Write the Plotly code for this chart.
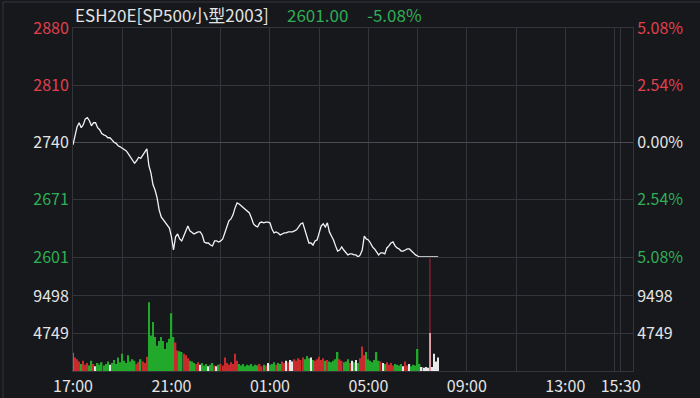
import plotly.graph_objects as go

# ---------------- data ----------------
symbol = "ESH20E[SP500小型2003]"
prev_close = 2740.25
step_min = 5  # minutes between samples, starting 17:00

price = [
    2737.5, 2749.5, 2759.5, 2764.25, 2758.25, 2761.75, 2769.0, 2770.5, 2766.75, 2760.5,
    2764.25, 2764.25, 2758.25, 2755.75, 2751.0, 2749.5, 2748.5, 2746.0, 2746.0, 2743.5,
    2740.5, 2739.25, 2736.25, 2735.0, 2733.25, 2732.5, 2730.0, 2726.5, 2722.75, 2718.0,
    2715.0, 2718.0, 2722.25, 2721.0, 2724.75, 2729.5, 2732.5, 2712.0, 2703.25, 2688.75,
    2682.5, 2673.0, 2658.25, 2649.75, 2646.0, 2643.5, 2640.0, 2636.25, 2625.5, 2609.5,
    2625.5, 2629.0, 2623.0, 2620.5, 2626.5, 2634.0, 2638.75, 2632.75, 2630.25, 2629.0,
    2630.25, 2631.5, 2631.5, 2627.75, 2619.25, 2618.0, 2618.0, 2615.5, 2614.5, 2620.5,
    2620.5, 2619.25, 2620.5, 2623.0, 2630.25, 2638.75, 2645.0, 2647.25, 2652.25, 2660.75,
    2666.75, 2665.5, 2663.25, 2660.75, 2658.25, 2655.75, 2654.5, 2648.5, 2641.25, 2638.75,
    2637.5, 2642.5, 2643.5, 2642.5, 2643.5, 2643.5, 2642.5, 2635.0, 2630.25, 2631.5,
    2630.25, 2627.75, 2629.0, 2630.25, 2630.25, 2631.5, 2631.5, 2631.5, 2632.75, 2634.0,
    2637.5, 2641.25, 2642.5, 2635.0, 2625.5, 2618.0, 2618.0, 2615.5, 2620.5, 2621.75,
    2630.25, 2638.75, 2641.25, 2637.5, 2642.5, 2631.5, 2626.5, 2621.75, 2614.5, 2608.25,
    2609.5, 2613.25, 2609.5, 2606.0, 2603.5, 2604.75, 2604.75, 2603.5, 2603.5, 2601.0,
    2603.5, 2609.5, 2626.5, 2623.0, 2621.75, 2618.0, 2613.25, 2610.75, 2607.0, 2603.5,
    2606.0, 2606.0, 2604.75, 2612.0, 2614.5, 2618.0, 2619.25, 2614.5, 2612.0, 2610.75,
    2608.25, 2608.25, 2609.5, 2610.75, 2610.75, 2608.25, 2606.0, 2603.5, 2602.25, 2601.0,
    2601.0, 2601.0, 2601.0, 2601.0, 2601.0, 2601.0, 2601.0, 2601.0, 2601.0,
]

volume = [
    2300, 1700, 1500, 1200, 900, 1300, 800, 1000, 700, 1300,
    900, 600, 1000, 800, 1100, 700, 900, 1200, 800, 1000,
    1400, 900, 1700, 1100, 2200, 1300, 1000, 2000, 1200, 1500,
    1300, 900, 1100, 1500, 1200, 1000, 1800, 8700, 4500, 6200,
    4300, 3200, 3800, 4300, 3800, 2800, 3600, 4100, 7300, 4300,
    3600, 2600, 2500, 2400, 2200, 2000, 1600, 1300, 1200, 1000,
    900, 1100, 800, 1000, 700, 900, 600, 800, 1000, 700,
    600, 800, 900, 700, 1700, 1000, 800, 1100, 900, 2200,
    1300, 900, 700, 900, 600, 800, 700, 900, 600, 800,
    700, 900, 600, 800, 700, 1000, 800, 900, 1100, 800,
    1000, 900, 1200, 1000, 1300, 1100, 1400, 1200, 1500, 1300,
    1600, 1400, 1700, 1500, 1900, 1600, 1700, 1400, 1300, 1500,
    1800, 1400, 1600, 1300, 1400, 1200, 1100, 1300, 1500, 2400,
    1500, 1300, 1100, 1200, 1500, 1000, 1300, 1100, 1400, 1000,
    1600, 3100, 2000, 2400, 1500, 1300, 1100, 1400, 2400, 1300,
    1200, 1000, 900, 1100, 800, 1000, 700, 900, 800, 700,
    900, 600, 1200, 700, 900, 600, 800, 700, 2800, 900,
    500, 400, 500, 400, 4800, 500, 2200, 1200, 1700,
]

# session axis (minutes from 17:00, 15:15-15:30 break removed)
tick_minutes = [0, 120, 240, 360, 480, 600, 720, 840, 960, 1080, 1200, 1320, 1335]
tick_labels = ["17:00", "", "21:00", "", "01:00", "", "05:00", "", "09:00", "", "13:00", "", "15:30"]
session_len = 1365
marker_minute = 870          # 07:30
vol_ticks = [4749, 9498]

# ---------------- styling ----------------
BG = "#16181c"
GRID = "#33353a"
GRID_MID = "#4a4c51"
RED = "#e0404e"
GREEN = "#2fae55"
WHITE = "#e4e4e4"
FONT = "Noto Sans CJK SC, Microsoft YaHei, sans-serif"

minutes = [i * step_min for i in range(len(price))]
last = price[-1]
chg_pct = (last - prev_close) / prev_close * 100

# volume colours from price direction
vcolors = []
prev = prev_close
for p in price:
    if p > prev:
        vcolors.append("#c92a2c")
    elif p < prev:
        vcolors.append("#22a82a")
    else:
        vcolors.append("#e8e8e8")
    prev = p

span = prev_close - min(price)
ylo, yhi = prev_close - span, prev_close + span
ptick_vals = [prev_close + k * span / 2 for k in (2, 1, 0, -1, -2)]

def col(v):
    if v > prev_close + 1e-9:
        return RED
    if v < prev_close - 1e-9:
        return GREEN
    return WHITE

left_text = [f"<span style='color:{col(v)}'>{round(v):d}</span>" for v in ptick_vals]
right_text = [f"<span style='color:{col(v)}'>{abs(v - prev_close) / prev_close * 100:.2f}%</span>" for v in ptick_vals]

vmax = 3 * vol_ticks[0]

fig = go.Figure()
fig.add_trace(go.Bar(x=minutes, y=volume, marker=dict(color=vcolors, line=dict(width=0)),
                     width=3.6, xaxis="x", yaxis="y2", hoverinfo="skip"))
fig.add_trace(go.Scatter(x=minutes, y=price, mode="lines", line=dict(color="#f2f2f2", width=1.3),
                         xaxis="x", yaxis="y", hoverinfo="skip"))
fig.add_trace(go.Scatter(x=[0], y=[prev_close], mode="markers", marker=dict(opacity=0),
                         xaxis="x", yaxis="y3", hoverinfo="skip"))
fig.add_trace(go.Scatter(x=[0], y=[0], mode="markers", marker=dict(opacity=0),
                         xaxis="x", yaxis="y4", hoverinfo="skip"))
fig.add_trace(go.Scatter(x=[0], y=[prev_close], mode="markers", marker=dict(opacity=0),
                         xaxis="x", yaxis="y5", hoverinfo="skip"))

price_dom = [0.3324, 1.0]
vol_dom = [0.0, 0.328]

axis_common = dict(zeroline=False, showline=True, linecolor=GRID, linewidth=1, automargin=False,
                   ticks="", tickfont=dict(family=FONT, size=16, color=WHITE), fixedrange=True)

fig.update_layout(
    width=700, height=398, autosize=False,
    margin=dict(l=73, r=67, t=28, b=27, pad=0, autoexpand=False),
    paper_bgcolor=BG, plot_bgcolor=BG,
    showlegend=False,
    barmode="overlay",
    font=dict(family=FONT, size=16, color=WHITE),
    xaxis=dict(range=[0, session_len], tickmode="array", tickvals=tick_minutes, ticktext=tick_labels,
               showgrid=True, gridcolor=GRID, gridwidth=1, mirror="all", anchor="y2",
               ticklabelstandoff=1, **axis_common),
    yaxis=dict(domain=price_dom, range=[ylo, yhi], tickmode="array", tickvals=ptick_vals, ticktext=left_text,
               showgrid=True, gridcolor=GRID, mirror=True, anchor="x", **axis_common),
    yaxis3=dict(overlaying="y", side="right", range=[ylo, yhi], tickmode="array", tickvals=ptick_vals,
                ticktext=right_text, showgrid=False, anchor="x", **axis_common),
    yaxis5=dict(overlaying="y", side="left", range=[ylo, yhi], tickmode="array", tickvals=[prev_close],
                showticklabels=False, showgrid=True, gridcolor=GRID_MID, showline=False, zeroline=False,
                ticks="", anchor="x", fixedrange=True),
    yaxis2=dict(domain=vol_dom, range=[0, vmax], tickmode="array", tickvals=vol_ticks,
                ticktext=[str(v) for v in vol_ticks], showgrid=True, gridcolor=GRID, mirror=True,
                anchor="x", **axis_common),
    yaxis4=dict(overlaying="y2", side="right", range=[0, vmax], tickmode="array", tickvals=vol_ticks,
                ticktext=[str(v) for v in vol_ticks], showgrid=False, anchor="x", **axis_common),
    shapes=[
        dict(type="line", xref="x", yref="y2 domain", x0=marker_minute, x1=marker_minute, y0=0, y1=1,
             line=dict(color="rgba(215,40,60,0.55)", width=1.5), layer="above"),
        dict(type="line", xref="paper", yref="paper", x0=-0.125, x1=1.12, y0=1.0758, y1=1.0758,
             line=dict(color=GRID, width=1)),
        dict(type="line", xref="paper", yref="paper", x0=-0.125, x1=-0.125, y0=-0.08, y1=1.0758,
             line=dict(color=GRID, width=1)),
    ],
    annotations=[
        dict(xref="paper", yref="paper", x=0.0, y=1.0408, xanchor="left", yanchor="middle",
             text=symbol, showarrow=False, font=dict(family=FONT, size=17, color=WHITE)),
        dict(xref="paper", yref="paper", x=0.3786, y=1.0408, xanchor="left", yanchor="middle",
             text=f"{last:.2f}", showarrow=False, font=dict(family=FONT, size=17, color=GREEN)),
        dict(xref="paper", yref="paper", x=0.5214, y=1.0408, xanchor="left", yanchor="middle",
             text=f"{chg_pct:.2f}%", showarrow=False, font=dict(family=FONT, size=17, color=GREEN)),
    ],
)

fig.write_html("out.html", config={"displayModeBar": False},
               post_script="document.body.style.margin='0';document.body.style.overflow='hidden';")
